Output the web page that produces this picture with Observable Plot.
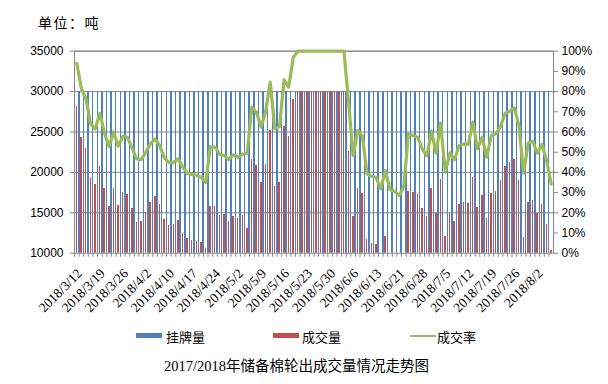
<!DOCTYPE html>
<html><head><meta charset="utf-8">
<script src="https://cdn.jsdelivr.net/npm/d3@7"></script>
<script src="https://cdn.jsdelivr.net/npm/@observablehq/plot@0.6"></script>
<style>
body{margin:0;background:#fff;}
#wrap{position:relative;width:608px;height:384px;overflow:hidden;font-family:"Noto Sans CJK SC",sans-serif;}
#wrap svg{position:absolute;left:0;top:0;}
.lbl{position:absolute;white-space:nowrap;color:#000;line-height:1;}
.sw{position:absolute;}
</style></head><body><div id="wrap"></div>
<script>
const dates = [
"2018/3/12","2018/3/13","2018/3/14","2018/3/15","2018/3/16",
"2018/3/19","2018/3/20","2018/3/21","2018/3/22","2018/3/23",
"2018/3/26","2018/3/27","2018/3/28","2018/3/29","2018/3/30",
"2018/4/2","2018/4/3","2018/4/4","2018/4/8","2018/4/9",
"2018/4/10","2018/4/11","2018/4/12","2018/4/13","2018/4/16",
"2018/4/17","2018/4/18","2018/4/19","2018/4/20","2018/4/23",
"2018/4/24","2018/4/25","2018/4/26","2018/4/27","2018/4/28",
"2018/5/2","2018/5/3","2018/5/4","2018/5/7","2018/5/8",
"2018/5/9","2018/5/10","2018/5/11","2018/5/14","2018/5/15",
"2018/5/16","2018/5/17","2018/5/18","2018/5/21","2018/5/22",
"2018/5/23","2018/5/24","2018/5/25","2018/5/28","2018/5/29",
"2018/5/30","2018/5/31","2018/6/1","2018/6/4","2018/6/5",
"2018/6/6","2018/6/7","2018/6/8","2018/6/11","2018/6/12",
"2018/6/13","2018/6/14","2018/6/15","2018/6/19","2018/6/20",
"2018/6/21","2018/6/22","2018/6/25","2018/6/26","2018/6/27",
"2018/6/28","2018/6/29","2018/7/2","2018/7/3","2018/7/4",
"2018/7/5","2018/7/6","2018/7/9","2018/7/10","2018/7/11",
"2018/7/12","2018/7/13","2018/7/16","2018/7/17","2018/7/18",
"2018/7/19","2018/7/20","2018/7/23","2018/7/24","2018/7/25",
"2018/7/26","2018/7/27","2018/7/30","2018/7/31","2018/8/1",
"2018/8/2","2018/8/3","2018/8/6","2018/8/7"];

const xTickLabels = ["2018/3/12","2018/3/19","2018/3/26","2018/4/2","2018/4/10","2018/4/17","2018/4/24","2018/5/2","2018/5/9","2018/5/16","2018/5/23","2018/5/30","2018/6/6","2018/6/13","2018/6/21","2018/6/28","2018/7/5","2018/7/12","2018/7/19","2018/7/26","2018/8/2"];

// 挂牌量 (tons)
const listed = [
30000,30000,30000,30000,30000, 30000,30000,30000,30000,30000,
30000,30000,30000,30000,30000, 30000,30000,30000,30000,30000,
30000,30000,30000,30000,30000, 30000,30000,30000,30000,30000,
30000,30000,30000,30000,30000, 30000,30000,30000,30000,30000,
30000,30000,30000,30000,30000, 30000,30000,30000,30000,30000,
30000,30000,30000,30000,30000, 30000,30000,30000,30000,30000,
30000,30000,30000,30000,30000, 30000,30000,30000,30000,30000,
30000,30000,30000,30000,30000, 30000,30000,30000,30000,30000,
30000,30000,30000,30000,30000, 30000,30000,30000,30000,30000,
30000,30000,30000,30000,30000, 30000,30000,30000,30000,30000,
30000,30000,30000,30000];

// 成交量 (tons)
const deal = [
28150,24320,22950,19240,18500, 20730,18000,15780,18000,15900,
17500,17260,15530,13800,13900, 15030,16270,17000,16000,14170,
13420,13550,14040,12430,11820, 11570,11440,11320,10580,15780,
15780,14660,14790,13920,14540, 14290,14660,13050,21590,20850,
18790,20970,25180,18250,18750, 25680,24440,29020,30000,30000,
30000,30000,30000,30000,30000, 30000,30000,30000,30000,22580,
14540,18000,17380,11690,11240, 11070,9540,12060,9420,9210,
8550,9900,17630,17510,17260, 15530,14540,18000,14950,19120,
12060,14910,13920,16020,16270, 16150,19360,15650,17140,14290,
17380,17630,18990,20730,21220, 21590,18990,11940,16270,16520,
14910,16020,13550,10330];

// 成交率 (%)
const rate = [
94,81.4,76.4,64,61.5, 69.3,59.5,52.8,60,53,
58,57.4,52,46.7,46.3, 50.1,54.2,56.6,53.3,47.2,
45,45,46.7,42.6,39.6, 38.9,38.6,37.6,35.1,52.8,
52.5,49,48.3,46.4,48.7, 47.5,49,49.5,72.3,69.8,
62.4,70,84.7,61.5,62.7, 85.8,82.2,97,100,100,
100,100,100,100,100, 100,100,100,100,75.3,
48.3,60.7,58,39.3,38, 37.6,31.8,40.9,31.4,30.7,
28.5,33,59.1,58.3,57.4, 51.7,48.2,60.4,49.5,64.4,
40.1,49.7,46.2,53.3,54.1, 53.8,64.9,51.7,57.4,47.5,
58.3,59.1,62.7,69.3,70.3, 71.9,63.2,39.6,54.5,55.4,
49.5,53.8,45.9,34.3];

const leftTicks = [10000,15000,20000,25000,30000,35000];
const gridValues = [15000,20000,25000,30000,35000];
const pctTicks = [0,10,20,30,40,50,60,70,80,90,100];

const W = 608, H = 384, mL = 74, mR = 55, mT = 50.7, mB = 131.3;
const bw = (W - mL - mR) / dates.length;
const barW = 1.5;
const rows = dates.map((d, i) => ({date: d, listed: listed[i], deal: deal[i], rate: rate[i]}));
const yMin = 10000, yMax = 35000;
const pctToY = p => yMin + p / 100 * (yMax - yMin);

const blueC = 0.05 * bw, redC = 0.55 * bw;
const grey = "#868686";

const chart = Plot.plot({
  width: W, height: H,
  marginLeft: mL, marginRight: mR, marginTop: mT, marginBottom: mB,
  style: {fontFamily: "'Liberation Sans', Arial, sans-serif", fontSize: "12px", color: "#000", background: "transparent", overflow: "visible"},
  x: {type: "band", domain: dates, padding: 0, axis: null, label: null},
  y: {domain: [yMin, yMax], axis: null, label: null},
  marks: [
    Plot.ruleY(gridValues, {stroke: grey, strokeWidth: 1}),
    Plot.barY(rows, {x: "date", y: "listed", fill: "#4F81BD", clip: true, shapeRendering: "crispEdges",
      insetLeft: blueC - barW / 2, insetRight: bw - blueC - barW / 2}),
    Plot.barY(rows, {x: "date", y: "deal", fill: "#C0504D", clip: true, shapeRendering: "crispEdges",
      insetLeft: redC - barW / 2, insetRight: bw - redC - barW / 2}),
    Plot.frame({stroke: grey}),
    Plot.line(rows, {x: "date", y: d => pctToY(d.rate), stroke: "#9BBB59", strokeWidth: 3.2, strokeLinejoin: "round", strokeLinecap: "round"}),
    Plot.axisY({anchor: "left", label: null, ticks: leftTicks, tickFormat: d => String(d), tickSize: 4, tickPadding: 7, stroke: grey, fill: "#000", fontSize: 12}),
    Plot.axisY({anchor: "right", label: null, ticks: pctTicks.map(pctToY), tickFormat: d => Math.round((d - yMin) / (yMax - yMin) * 100) + "%", tickSize: 4, tickPadding: 4, stroke: grey, fill: "#000", fontSize: 12}),
    Plot.axisX({label: null, ticks: dates, tickFormat: () => "", tickSize: 4, stroke: grey, dx: -bw / 2}),
    Plot.axisX({label: null, ticks: xTickLabels, tickSize: 0, tickPadding: 18, dx: 3, tickRotate: -45, fontFamily: "'Liberation Serif', 'Times New Roman', serif", fontSize: 13.5, fill: "#000"})
  ]
});

const wrap = document.getElementById("wrap");
wrap.appendChild(chart);

function addLabel(text, left, top, size, family, extra) {
  const d = document.createElement("div");
  d.className = "lbl";
  d.textContent = text;
  d.style.left = left + "px";
  d.style.top = top + "px";
  d.style.fontSize = size + "px";
  if (family) d.style.fontFamily = family;
  if (extra) Object.assign(d.style, extra);
  wrap.appendChild(d);
}
function addSwatch(color, left, top, w, h) {
  const s = document.createElement("div");
  s.className = "sw";
  Object.assign(s.style, {left: left + "px", top: top + "px", width: w + "px", height: h + "px", background: color});
  wrap.appendChild(s);
}

addLabel("单位：吨", 38, 15, 14, null, {letterSpacing: "1.5px"});

addSwatch("#4F81BD", 136, 333, 26, 5);
addLabel("挂牌量", 166, 330, 13);
addSwatch("#C0504D", 273, 333, 26, 5);
addLabel("成交量", 302, 330, 13);
addSwatch("#9BBB59", 410, 334.5, 26, 2.5);
addLabel("成交率", 437, 330, 13);

addLabel("2017/2018年储备棉轮出成交量情况走势图", 164, 358.5, 14.5, "'Liberation Serif','Noto Sans CJK SC',serif");
</script></body></html>
